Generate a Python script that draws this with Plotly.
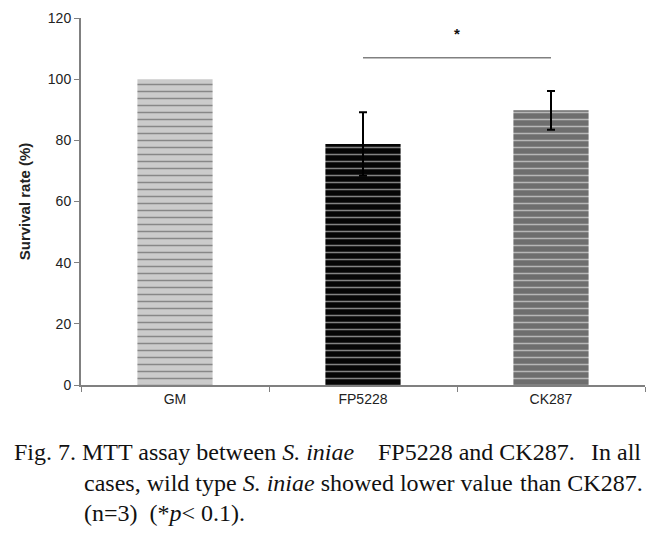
import plotly.graph_objects as go

categories = ["GM", "FP5228", "CK287"]
survival = [100, 78.8, 89.8]
errors = [None, 10.4, 6.3]
bar_colors = ["#cbcbcb", "#050505", "#6e6e6e"]
stripe_colors = ["#505050", "#1c1c1c", "#262626"]
y_ticks = [0, 20, 40, 60, 80, 100, 120]
sig_pair = ["FP5228", "CK287"]
sig_level = 107
star_level = 115

fig = go.Figure()
fig.add_trace(go.Bar(
    x=categories, y=survival, width=0.4,
    marker=dict(color=bar_colors, line=dict(width=0),
                pattern=dict(shape="-", fgcolor=stripe_colors, size=7, solidity=0.22,
                             fillmode="overlay")),
    showlegend=False, hoverinfo="x+y",
))

err_x = [c for c, e in zip(categories, errors) if e is not None]
err_y = [v for v, e in zip(survival, errors) if e is not None]
err_v = [e for e in errors if e is not None]
fig.add_trace(go.Scatter(
    x=err_x, y=err_y, mode="markers", marker=dict(size=1, color="rgba(0,0,0,0)"),
    error_y=dict(type="data", array=err_v, visible=True, color="#000000",
                 thickness=2, width=4),
    showlegend=False, hoverinfo="skip",
))

fig.add_shape(type="line", xref="x", yref="y", x0=sig_pair[0], x1=sig_pair[1],
              y0=sig_level, y1=sig_level, line=dict(color="#808080", width=1.5))
fig.add_annotation(xref="x", yref="y", x=1.5, y=star_level, text="<b>*</b>", showarrow=False,
                   font=dict(family="Liberation Sans", size=15, color="#111111"))

caption_font = dict(family="Liberation Serif", size=24, color="#111111")
# (x pixel, y pixel centre, anchor, text) – pieces of each justified caption line
caption = [
    (12, 452, "left", "Fig. 7. MTT assay between <i>S. iniae</i>"),
    (376, 452, "left", "FP5228 and CK287."),
    (643, 452, "right", "In all"),
    (82, 483, "left", "cases, wild type <i>S. iniae</i> showed lower value"),
    (645, 483, "right", "than CK287."),
    (82, 513, "left", "(n=3)  (*<i>p</i>&lt; 0.1)."),
]
for cx, cy, anchor, txt in caption:
    fig.add_annotation(xref="paper", yref="paper",
                       x=(cx - 81) / 564, y=(385 - cy) / 367,
                       xanchor=anchor, yanchor="middle", text=txt, showarrow=False,
                       font=caption_font)

fig.update_layout(
    width=666, height=534,
    margin=dict(l=81, r=21, t=18, b=149),
    paper_bgcolor="white", plot_bgcolor="white",
    font=dict(family="Liberation Sans", color="#222222"),
)
fig.update_xaxes(
    showline=True, linecolor="#808080", linewidth=2,
    ticks="outside", tickson="boundaries", ticklen=5, tickcolor="#808080",
    tickfont=dict(size=14, color="#222222"),
    showgrid=False, zeroline=False, automargin=False,
)
fig.update_yaxes(
    range=[0, 120], tickvals=y_ticks,
    showline=True, linecolor="#808080", linewidth=2,
    ticks="outside", ticklen=5, tickcolor="#808080",
    tickfont=dict(size=14, color="#222222"),
    showgrid=False, zeroline=False, automargin=False,
    title=dict(text="<b>Survival rate (%)</b>", font=dict(size=15, color="#222222"), standoff=14),
)

fig.write_html("out.html", config={"displayModeBar": False},
               post_script="document.body.style.margin='0';")
